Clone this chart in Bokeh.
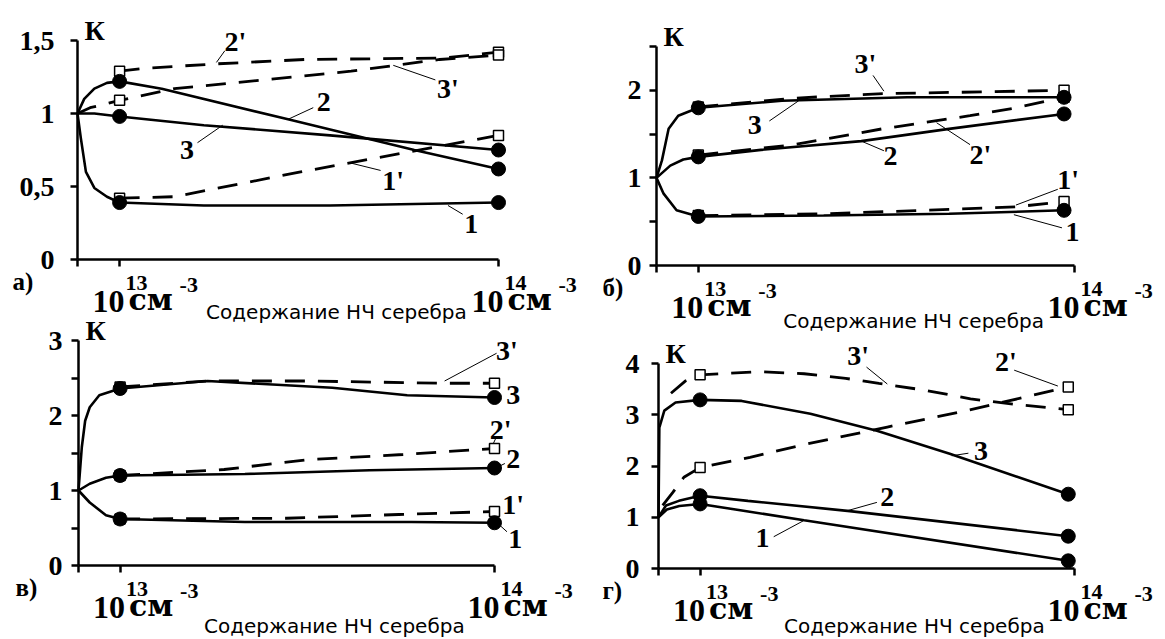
from bokeh.plotting import figure
from bokeh.models import Range1d, FixedTicker, Label, LinearAxis
from bokeh.embed import file_html
from bokeh.resources import INLINE

SERIF = "Liberation Serif"
W, H = 1165, 639

# ---------------- data: x in units of 10^13 cm^-3, y = K ----------------
# panel а)
a_x1 = [0, 0.08, 0.2, 0.4, 0.7, 1, 3, 6, 10]
a_y1 = [1, 0.83, 0.60, 0.49, 0.43, 0.39, 0.37, 0.37, 0.39]
a_x1p = [1, 2.3, 5.3, 10]
a_y1p = [0.42, 0.43, 0.60, 0.85]
a_x2 = [0, 0.16, 0.4, 0.7, 1, 2, 5, 8, 10]
a_y2 = [1, 1.10, 1.17, 1.21, 1.22, 1.17, 0.96, 0.75, 0.62]
a_x2p = [1, 1.6, 3.3, 5.4, 8.7, 10]
a_y2p = [1.29, 1.31, 1.34, 1.37, 1.38, 1.42]
a_x3 = [0, 0.4, 1, 3, 6, 10]
a_y3 = [1, 1.0, 0.98, 0.92, 0.85, 0.75]
a_x3p = [0, 0.3, 0.6, 1, 2.3, 4.4, 6.5, 8.6, 10]
a_y3p = [1, 1.04, 1.06, 1.09, 1.17, 1.23, 1.29, 1.37, 1.40]

# panel б)
b_x1 = [0, 0.17, 0.48, 1, 4, 7, 9.75]
b_y1 = [1, 0.82, 0.63, 0.56, 0.57, 0.59, 0.63]
b_x1p = [1, 4, 6.4, 8.6, 9.75]
b_y1p = [0.57, 0.59, 0.63, 0.67, 0.73]
b_x2 = [0, 0.33, 0.64, 1, 2.5, 4.9, 7, 9.75]
b_y2 = [1, 1.14, 1.21, 1.24, 1.32, 1.42, 1.56, 1.73]
b_x2p = [1, 3.3, 5.4, 7.5, 8.6, 9.75]
b_y2p = [1.26, 1.38, 1.56, 1.71, 1.80, 1.92]
b_x3 = [0, 0.13, 0.29, 0.52, 1, 3, 6, 9.75]
b_y3 = [1, 1.2, 1.56, 1.71, 1.80, 1.88, 1.92, 1.92]
b_x3p = [1, 3.3, 5.3, 9.75]
b_y3p = [1.81, 1.91, 1.96, 2.0]

# panel в)
c_x1 = [0, 0.27, 0.66, 1, 4, 8, 10]
c_y1 = [1, 0.84, 0.67, 0.62, 0.58, 0.58, 0.57]
c_x1p = [1, 5, 7.7, 10]
c_y1p = [0.62, 0.63, 0.68, 0.72]
c_x2 = [0, 0.27, 0.66, 1, 4, 7, 10]
c_y2 = [1, 1.09, 1.17, 1.20, 1.22, 1.27, 1.30]
c_x2p = [1, 3.5, 5.5, 7.8, 10]
c_y2p = [1.20, 1.28, 1.41, 1.48, 1.56]
c_x3 = [0, 0.08, 0.16, 0.27, 0.5, 1, 3.1, 6.1, 7.9, 10]
c_y3 = [1, 1.58, 1.93, 2.11, 2.27, 2.36, 2.46, 2.37, 2.27, 2.24]
c_x3p = [1, 3.1, 5.5, 8.8, 10]
c_y3p = [2.38, 2.46, 2.46, 2.43, 2.43]

# panel г)
d_x1 = [0, 0.2, 0.5, 1, 3.5, 9.85]
d_y1 = [1, 1.15, 1.22, 1.26, 0.94, 0.15]
d_x2 = [0, 0.18, 0.49, 1, 2.15, 4.6, 9.85]
d_y2 = [1, 1.23, 1.32, 1.42, 1.32, 1.12, 0.63]
d_x3 = [0, 0.02, 0.14, 0.41, 1, 2, 3.65, 5.25, 7.0, 9.85]
d_y3 = [1, 2.75, 3.08, 3.24, 3.29, 3.27, 3.02, 2.69, 2.24, 1.45]
d_x2p = [0.1, 0.34, 0.61, 1, 2.2, 3.4, 5.5, 7.4, 9.85]
d_y2p = [1.23, 1.48, 1.78, 1.97, 2.17, 2.40, 2.76, 3.08, 3.54]
d_x3p = [0.3, 0.65, 1, 2.4, 3.5, 4.5, 5.3, 6.4, 7.5, 8.6, 9.85]
d_y3p = [3.42, 3.66, 3.78, 3.84, 3.80, 3.71, 3.61, 3.48, 3.31, 3.20, 3.10]

# axis ticks / labels
x_ticks = [0, 1, 10]
x_tick_exps = ["13", "14"]
a_yticks = [0, 0.5, 1, 1.5]
a_ylabels = ["0", "0,5", "1", "1,5"]
b_yticks = [0, 1, 2]
b_yminor = [0.5, 1.5, 2.5]
c_yticks = [0, 1, 2, 3]
c_yminor = [0.5, 1.5, 2.5]
d_yticks = [0, 1, 2, 3, 4]
x_title = "Содержание НЧ серебра"
y_title = "К"
panel_names = ["а)", "б)", "в)", "г)"]

# curve labels: text, x, y, leader (x0, y0, x1, y1) or None
a_notes = [("2'", 3.75, 1.49, (3.5, 1.43, 3.3, 1.35)),
           ("3'", 8.8, 1.17, (8.5, 1.23, 7.5, 1.33)),
           ("2", 5.85, 1.08, (5.6, 1.04, 5.0, 0.96)),
           ("3", 2.6, 0.75, (2.85, 0.80, 3.45, 0.92)),
           ("1'", 7.5, 0.54, (7.2, 0.61, 6.5, 0.66)),
           ("1", 9.35, 0.24, (9.15, 0.31, 8.8, 0.37))]
b_notes = [("3'", 5.0, 2.31, (5.18, 2.17, 5.44, 1.99)),
           ("3", 2.35, 1.60, (2.7, 1.65, 3.4, 1.88)),
           ("2", 5.6, 1.25, (5.44, 1.31, 4.9, 1.42)),
           ("2'", 7.75, 1.27, (7.5, 1.38, 6.7, 1.63)),
           ("1'", 9.85, 0.98, (9.6, 0.87, 8.6, 0.69)),
           ("1", 9.95, 0.38, (9.7, 0.43, 8.55, 0.58))]
c_notes = [("3'", 10.3, 2.87, (10.05, 2.83, 8.8, 2.46)),
           ("3", 10.45, 2.28, None),
           ("2'", 10.15, 1.82, (10.05, 1.72, 9.95, 1.6)),
           ("2", 10.45, 1.42, (10.25, 1.36, 10.1, 1.32)),
           ("1'", 10.45, 0.82, None),
           ("1", 10.5, 0.36, (10.3, 0.45, 10.1, 0.55))]
d_notes = [("3'", 4.8, 4.16, (5.0, 3.93, 5.5, 3.60)),
           ("2'", 8.35, 4.03, (8.55, 3.87, 9.6, 3.56)),
           ("3", 7.75, 2.3, (7.45, 2.25, 7.05, 2.2)),
           ("2", 5.5, 1.39, (5.25, 1.29, 4.55, 1.13)),
           ("1", 2.5, 0.60, (2.77, 0.62, 3.48, 0.93))]

DASH = "20 13"

p = figure(width=W, height=H, x_range=Range1d(0, 1), y_range=Range1d(0, 1),
           x_axis_type=None, y_axis_type=None, output_backend="svg",
           toolbar_location=None, min_border=0)
p.outline_line_color = None
p.background_fill_color = "white"
p.border_fill_color = "white"


def panel(key, X0, Y0, xs, ys, top_val, ticks, minor, labels, standoff,
          solids, dashes, end_x, notes, name, name_dx, title_dy):
    xn, yn = "x" + key, "y" + key
    # each panel gets its own scales; origin pinned at pixel (X0, Y0)
    p.extra_x_ranges[xn] = Range1d(-X0 / xs, (W - X0) / xs)
    p.extra_y_ranges[yn] = Range1d(-(H - Y0) / ys, Y0 / ys)
    rn = dict(x_range_name=xn, y_range_name=yn)

    def txt(text, x, y, xo, yo, size, align="left", font=SERIF,
            style="bold"):
        p.add_layout(Label(x=x, y=y, x_offset=xo, y_offset=yo, text=text,
                           text_align=align, text_baseline="middle",
                           text_font=font, text_font_style=style,
                           text_font_size=size, text_color="black", **rn))

    xa = LinearAxis(fixed_location=0, ticker=FixedTicker(ticks=x_ticks),
                    bounds=(0, 10),
                    major_label_overrides={t: "" for t in x_ticks},
                    major_label_text_font_size="1px", **rn)
    ya = LinearAxis(fixed_location=0,
                    ticker=FixedTicker(ticks=ticks, minor_ticks=minor),
                    bounds=(0, top_val),
                    major_label_overrides={t: l for t, l in zip(ticks, labels)},
                    major_label_text_font=SERIF,
                    major_label_text_font_style="bold",
                    major_label_text_font_size="28px",
                    major_label_text_color="black",
                    major_label_standoff=standoff, **rn)
    for ax in (xa, ya):
        ax.axis_line_width = 2.5
        ax.axis_line_color = "black"
        ax.major_tick_line_width = 2.5
        ax.major_tick_line_color = "black"
        ax.major_tick_out = 7
        ax.major_tick_in = 0
        ax.minor_tick_line_width = 2.5
        ax.minor_tick_line_color = "black"
        ax.minor_tick_out = 7
        ax.minor_tick_in = 0
    p.add_layout(xa, "below")
    p.add_layout(ya, "left")

    for xsx, ysy in solids:
        p.line(xsx, ysy, line_color="black", line_width=2.6, **rn)
    for xsx, ysy in dashes:
        p.line(xsx, ysy, line_color="black", line_width=2.8, line_dash=DASH,
               **rn)
    for n in notes:
        if n[3] is not None:
            x0, y0, x1, y1 = n[3]
            p.segment(x0, y0, x1, y1, line_color="black", line_width=1, **rn)

    def pick(xsx, ysy):
        mx = [x for x in xsx if x in (1, end_x)]
        my = [y for x, y in zip(xsx, ysy) if x in (1, end_x)]
        return mx, my

    for xsx, ysy in dashes:
        mx, my = pick(xsx, ysy)
        p.scatter(mx, my, marker="square", size=10, fill_color="white",
                  line_color="black", line_width=1.5, **rn)
    for xsx, ysy in solids:
        mx, my = pick(xsx, ysy)
        p.scatter(mx, my, marker="circle", size=14, fill_color="black",
                  line_color="black", **rn)

    for text, x, y, _ in notes:
        txt(text, x, y, 0, 0, "28px", align="center")

    # y title
    txt(y_title, 0, top_val, 7, 10, "28px")
    # panel letter
    txt(name, 0, 0, name_dx, -22, "25px")
    # x tick labels
    for t, e in zip([1, 10], x_tick_exps):
        txt("10", t, 0, 5, -42, "32px", align="right")
        txt(e, t, 0, 6, -23, "22px")
        txt("см", t, 0, 9, -40, "30px", font="DejaVu Serif")
        txt("-3", t, 0, 60, -25, "22px")
    # x title
    txt(x_title, 6.15, 0, 0, -title_dy, "20px", align="center",
        font="DejaVu Sans", style="normal")


panel("a", 77, 259, 42.1, 146, 1.5, a_yticks, [], a_ylabels, 16,
      [(a_x1, a_y1), (a_x2, a_y2), (a_x3, a_y3)],
      [(a_x1p, a_y1p), (a_x2p, a_y2p), (a_x3p, a_y3p)],
      10, a_notes, panel_names[0], -65, 52)
panel("b", 656, 265, 41.8, 87.6, 2.5, b_yticks, b_yminor,
      [str(t) for t in b_yticks], 8,
      [(b_x1, b_y1), (b_x2, b_y2), (b_x3, b_y3)],
      [(b_x1p, b_y1p), (b_x2p, b_y2p), (b_x3p, b_y3p)],
      9.75, b_notes, panel_names[1], -54, 55)
panel("c", 78, 565, 41.6, 75, 3, c_yticks, c_yminor,
      [str(t) for t in c_yticks], 9,
      [(c_x1, c_y1), (c_x2, c_y2), (c_x3, c_y3)],
      [(c_x1p, c_y1p), (c_x2p, c_y2p), (c_x3p, c_y3p)],
      10, c_notes, panel_names[2], -63, 60)
panel("d", 658, 568, 41.6, 51.25, 4, d_yticks, [],
      [str(t) for t in d_yticks], 12,
      [(d_x1, d_y1), (d_x2, d_y2), (d_x3, d_y3)],
      [(d_x2p, d_y2p), (d_x3p, d_y3p)],
      9.85, d_notes, panel_names[3], -56, 57)

open("out.html", "w").write(file_html(p, INLINE))
